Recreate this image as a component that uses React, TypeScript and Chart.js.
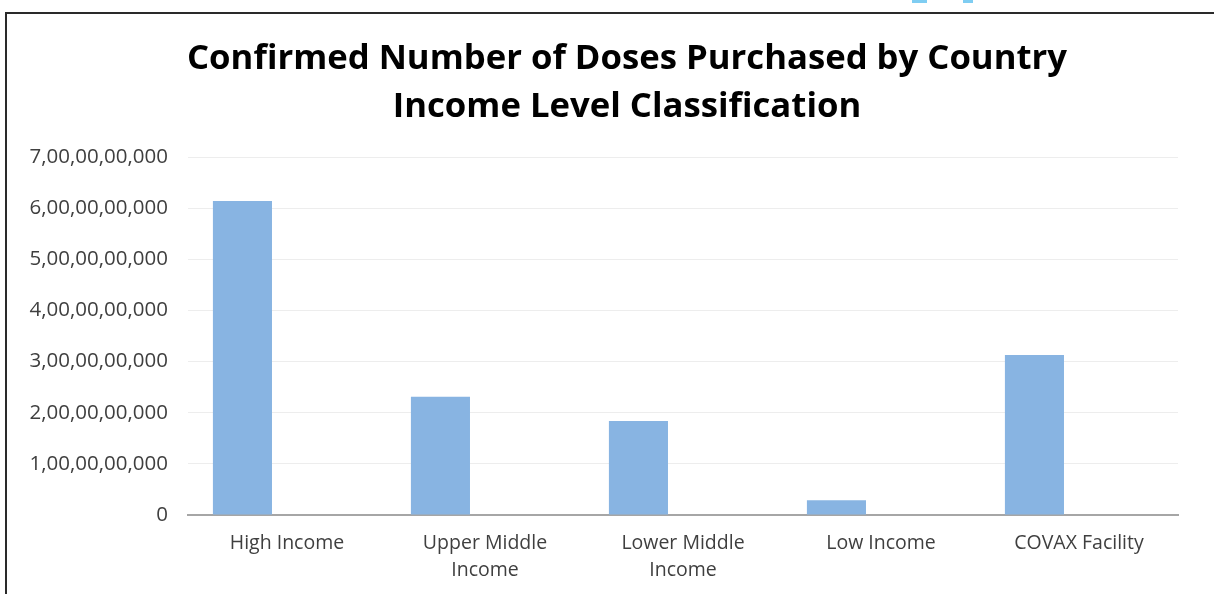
import React, { useEffect, useRef } from "react";
import { Chart, registerables } from "chart.js";

Chart.register(...registerables);

// Income groups along the x axis (multi-line labels as arrays)
const categories: (string | string[])[] = [
  "High Income",
  ["Upper Middle", "Income"],
  ["Lower Middle", "Income"],
  "Low Income",
  "COVAX Facility",
];

// Confirmed doses purchased per income group
const dosesPurchased: number[] = [6140000000, 2310000000, 1840000000, 290000000, 3130000000];

// Empty companion series (keeps the bars in the left slot of each group)
const emptySeries: (number | null)[] = [null, null, null, null, null];

// Y-axis tick values
const yTickValues: number[] = [0, 1e9, 2e9, 3e9, 4e9, 5e9, 6e9, 7e9];

const titleLines: string[] = [
  "Confirmed Number of Doses Purchased by Country",
  "Income Level Classification",
];

// Indian digit grouping: 7,00,00,00,000
function formatIndian(v: number): string {
  if (v === 0) return "0";
  const s = Math.round(v).toString();
  const last3 = s.slice(-3);
  const rest = s.slice(0, -3).replace(/\B(?=(\d{2})+(?!\d))/g, ",");
  return rest ? rest + "," + last3 : last3;
}

// Two-line heading drawn centred over the whole frame
const headingPlugin = {
  id: "heading",
  afterDraw(chart: any) {
    const ctx = chart.ctx;
    ctx.save();
    ctx.fillStyle = "#000000";
    ctx.font = "bold 34.7px 'Open Sans', sans-serif";
    ctx.textAlign = "center";
    ctx.textBaseline = "alphabetic";
    ctx.fillText(titleLines[0], 627, 69);
    ctx.fillText(titleLines[1], 627, 117);
    ctx.restore();
  },
};

export default function App() {
  const canvasRef = useRef<HTMLCanvasElement | null>(null);

  useEffect(() => {
    if (!canvasRef.current) return;
    const chart = new Chart(canvasRef.current, {
      type: "bar",
      data: {
        labels: categories,
        datasets: [
          {
            label: "Doses",
            data: dosesPurchased,
            backgroundColor: "#88b4e2",
            categoryPercentage: 0.9,
            barPercentage: 0.663,
          },
          {
            label: "",
            data: emptySeries,
            backgroundColor: "#88b4e2",
            categoryPercentage: 0.9,
            barPercentage: 0.663,
          },
        ],
      },
      plugins: [headingPlugin],
      options: {
        animation: false,
        responsive: false,
        maintainAspectRatio: false,
        layout: { padding: { left: 0, right: 36, top: 157, bottom: 0 } },
        plugins: {
          legend: { display: false },
          tooltip: { enabled: false },
          title: { display: false },
        },
        scales: {
          x: {
            grid: { display: false, drawTicks: false },
            border: { display: true, color: "#a6a6a6", width: 2 },
            ticks: {
              color: "#3f3f3f",
              font: { family: "'Open Sans', sans-serif", size: 19.5, lineHeight: 1.39 },
              padding: 15,
              maxRotation: 0,
              autoSkip: false,
            },
            afterFit: (scale: any) => {
              scale.height = 79;
            },
          },
          y: {
            min: 0,
            max: 7e9,
            afterBuildTicks: (scale: any) => {
              scale.ticks = yTickValues.map((v) => ({ value: v }));
            },
            grid: {
              drawTicks: false,
              color: (ctx: any) => (ctx.tick && ctx.tick.value === 0 ? "rgba(0,0,0,0)" : "#ededed"),
              lineWidth: 1,
            },
            border: { display: false },
            ticks: {
              color: "#3f3f3f",
              font: { family: "'Open Sans', sans-serif", size: 20.5 },
              padding: 20,
              callback: (v: any) => formatIndian(Number(v)),
            },
            afterFit: (scale: any) => {
              scale.width = 188;
            },
          },
        },
      },
    });
    return () => chart.destroy();
  }, []);

  return (
    <div
      style={{
        position: "fixed",
        left: 0,
        top: 0,
        width: 1214,
        height: 594,
        background: "#ffffff",
        overflow: "hidden",
      }}
    >
      <canvas ref={canvasRef} width={1214} height={594} style={{ position: "absolute", left: 0, top: 0 }} />
      {/* frame around the chart */}
      <div
        style={{
          position: "absolute",
          left: 5,
          top: 12,
          width: 1230,
          height: 620,
          borderTop: "2px solid #2a2a2a",
          borderLeft: "2px solid #2a2a2a",
          pointerEvents: "none",
        }}
      />
      {/* small accents along the top edge */}
      <div style={{ position: "absolute", left: 912, top: 0, width: 15, height: 3, background: "#7fcdf2" }} />
      <div style={{ position: "absolute", left: 963, top: 0, width: 10, height: 3, background: "#7fcdf2" }} />
    </div>
  );
}
